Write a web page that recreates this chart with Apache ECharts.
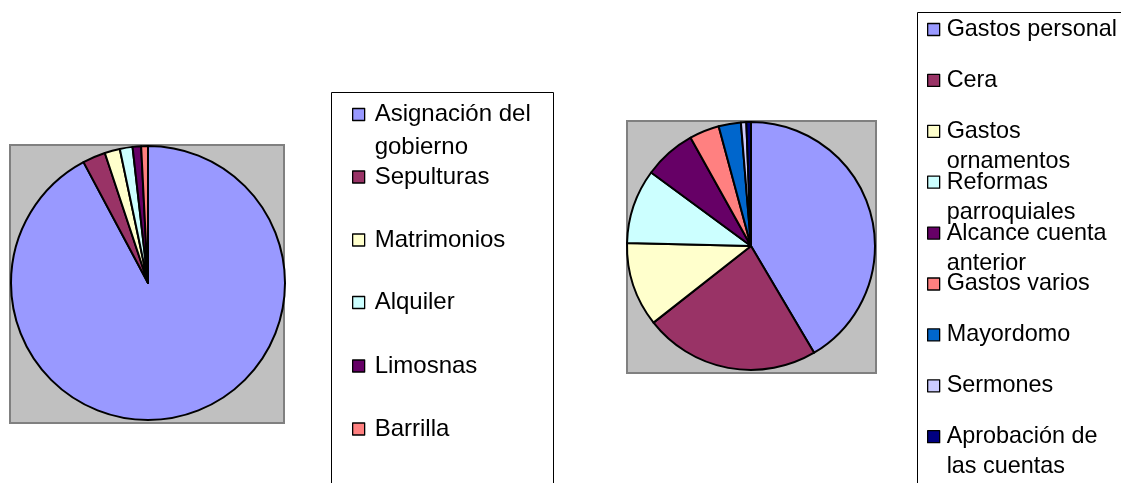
<!DOCTYPE html>
<html>
<head>
<meta charset="utf-8">
<script src="https://cdn.jsdelivr.net/npm/echarts@6/dist/echarts.min.js"></script>
<style>
html,body{margin:0;padding:0;background:#fff;}
#chart{width:1121px;height:483px;}
</style>
</head>
<body>
<div id="chart"></div>
<script>
// Ingresos (left pie)
const incomeCategories = ['Asignación del gobierno', 'Sepulturas', 'Matrimonios', 'Alquiler', 'Limosnas', 'Barrilla'];
const incomeLabels = ['Asignación del\ngobierno', 'Sepulturas', 'Matrimonios', 'Alquiler', 'Limosnas', 'Barrilla'];
const incomeValues = [92.2, 2.7, 1.8, 1.5, 1.0, 0.8];

// Gastos (right pie)
const expenseCategories = ['Gastos personal', 'Cera', 'Gastos ornamentos', 'Reformas parroquiales', 'Alcance cuenta anterior', 'Gastos varios', 'Mayordomo', 'Sermones', 'Aprobación de las cuentas'];
const expenseLabels = ['Gastos personal', 'Cera', 'Gastos\nornamentos', 'Reformas\nparroquiales', 'Alcance cuenta\nanterior', 'Gastos varios', 'Mayordomo', 'Sermones', 'Aprobación de\nlas cuentas'];
const expenseValues = [41.5, 22.9, 11.0, 9.7, 6.8, 3.9, 2.9, 0.7, 0.6];

const palette = ['#9999FF', '#993366', '#FFFFCC', '#CCFFFF', '#660066', '#FF8080', '#0066CC', '#CCCCFF', '#000080'];

const FONT = "'Liberation Sans', Arial, sans-serif";

function buildLegends(cats, labels, centers, left, fontSize, lh, padLeft) {
  return cats.map((name, i) => {
    const twoLine = labels[i].indexOf('\n') >= 0;
    // a leading empty line keeps the first text line level with the icon
    const text = twoLine ? '\n' + labels[i] : labels[i];
    const top = twoLine ? centers[i] - 1.5 * lh : centers[i] - lh / 2;
    return {
      data: [name],
      left: left,
      top: top,
      orient: 'vertical',
      padding: 0,
      icon: 'rect',
      itemWidth: 12,
      itemHeight: 12,
      selectedMode: false,
      itemStyle: {borderColor: '#000', borderWidth: 1.3},
      formatter: () => text,
      textStyle: {
        fontFamily: FONT,
        fontSize: fontSize,
        color: '#000',
        lineHeight: lh,
        padding: [0, 0, 0, padLeft]
      }
    };
  });
}

const incomeCenters = [114.5, 177, 240, 302.5, 366, 429];
const expenseCenters = [29.5, 80.4, 131.3, 182.2, 233.1, 284, 334.9, 385.8, 436.7];

const legends = buildLegends(incomeCategories, incomeLabels, incomeCenters, 352, 24, 33, 5)
  .concat(buildLegends(expenseCategories, expenseLabels, expenseCenters, 927, 23.4, 30, 2));

function pieData(cats, vals) {
  return cats.map((c, i) => ({name: c, value: vals[i], itemStyle: {color: palette[i]}}));
}

const option = {
  backgroundColor: '#fff',
  animation: false,
  legend: legends,
  graphic: [
    {type: 'rect', z: 0, shape: {x: 10, y: 145, width: 274, height: 278}, style: {fill: '#C0C0C0', stroke: '#808080', lineWidth: 2}},
    {type: 'rect', z: 0, shape: {x: 627, y: 121, width: 249, height: 252}, style: {fill: '#C0C0C0', stroke: '#808080', lineWidth: 2}},
    {type: 'rect', z: 0, shape: {x: 331.5, y: 92.5, width: 222, height: 420}, style: {fill: 'none', stroke: '#000', lineWidth: 1}},
    {type: 'rect', z: 0, shape: {x: 917.5, y: 12.5, width: 240, height: 500}, style: {fill: 'none', stroke: '#000', lineWidth: 1}}
  ],
  series: [
    {
      type: 'pie',
      center: [148, 283],
      radius: [0, 137],
      startAngle: 90,
      clockwise: true,
      label: {show: false},
      labelLine: {show: false},
      emphasis: {disabled: true},
      itemStyle: {borderColor: '#000', borderWidth: 2},
      data: pieData(incomeCategories, incomeValues)
    },
    {
      type: 'pie',
      center: [751, 246],
      radius: [0, 124],
      startAngle: 90,
      clockwise: true,
      label: {show: false},
      labelLine: {show: false},
      emphasis: {disabled: true},
      itemStyle: {borderColor: '#000', borderWidth: 2},
      data: pieData(expenseCategories, expenseValues)
    }
  ]
};

const chart = echarts.init(document.getElementById('chart'), null, {renderer: 'canvas'});
chart.setOption(option);
</script>
</body>
</html>
